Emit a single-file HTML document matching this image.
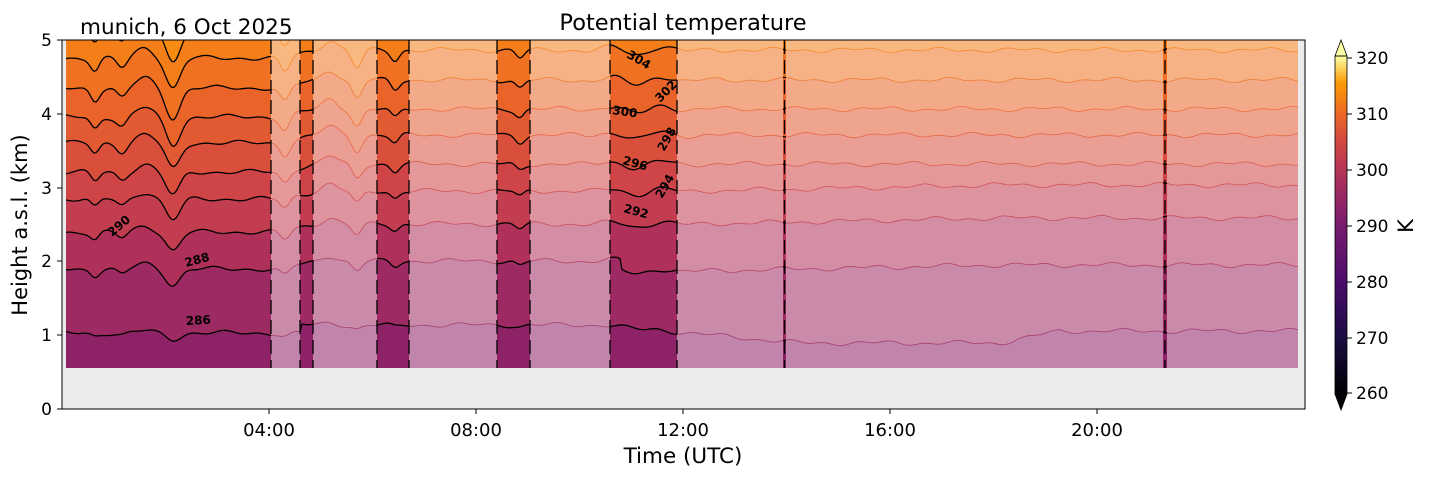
<!DOCTYPE html>
<html><head><meta charset="utf-8"><style>
body{margin:0;background:#fff;}
svg text{font-family:"DejaVu Sans","Liberation Sans",sans-serif;}
</style></head><body>
<svg id="s" width="1429" height="478" viewBox="0 0 1429 478" xmlns="http://www.w3.org/2000/svg">
<defs>
<clipPath id="da"><rect x="66" y="40" width="1232" height="328"/></clipPath>
<clipPath id="op">
<rect x="66" y="40" width="205" height="328"/><rect x="300" y="40" width="13" height="328"/>
<rect x="377" y="40" width="32" height="328"/><rect x="497" y="40" width="33" height="328"/>
<rect x="610" y="40" width="67" height="328"/><rect x="783" y="40" width="3" height="328"/>
<rect x="1163" y="40" width="4" height="328"/>
</clipPath>
<linearGradient id="cb" x1="0" y1="1" x2="0" y2="0">
<stop offset="0" stop-color="#000004"/><stop offset="0.17" stop-color="#1b0c41"/>
<stop offset="0.33" stop-color="#4a0c6b"/><stop offset="0.5" stop-color="#781c6d"/>
<stop offset="0.62" stop-color="#a52c60"/><stop offset="0.75" stop-color="#d44842"/>
<stop offset="0.83" stop-color="#ed6925"/><stop offset="0.92" stop-color="#fb9b06"/>
<stop offset="1" stop-color="#fcffa4"/></linearGradient>
</defs>
<rect x="62" y="40" width="1243" height="369" fill="#ebebeb"/>
<g id="bands" clip-path="url(#da)"></g>
<g id="fade" clip-path="url(#da)"></g>
<g id="flines" clip-path="url(#da)" fill="none" stroke-width="0.8"></g>
<g id="blines" clip-path="url(#op)" fill="none" stroke="#000" stroke-width="1.3"></g>
<g id="vl" stroke="#000" stroke-width="1.3"></g>
<g font-size="12" font-weight="bold" fill="#000">
<text x="186" y="325" transform="rotate(-3 186 325)">286</text>
<text x="186" y="267" transform="rotate(-15 186 267)">288</text>
<text x="112" y="237" transform="rotate(-40 112 237)">290</text>
<text x="623" y="212" transform="rotate(15 623 212)">292</text>
<text x="662" y="199" transform="rotate(-60 662 199)">294</text>
<text x="622" y="164" transform="rotate(15 622 164)">296</text>
<text x="664" y="152" transform="rotate(-60 664 152)">298</text>
<text x="612" y="114" transform="rotate(8 612 114)">300</text>
<text x="660" y="103" transform="rotate(-45 660 103)">302</text>
<text x="626" y="57" transform="rotate(30 626 57)">304</text>
</g>
<rect x="62" y="40" width="1243" height="369" fill="none" stroke="#000" stroke-width="1"/>
<g stroke="#000" stroke-width="1">
<line x1="57" y1="409" x2="62" y2="409"/><line x1="57" y1="335" x2="62" y2="335"/>
<line x1="57" y1="261" x2="62" y2="261"/><line x1="57" y1="188" x2="62" y2="188"/>
<line x1="57" y1="114" x2="62" y2="114"/><line x1="57" y1="40" x2="62" y2="40"/>
<line x1="269" y1="409" x2="269" y2="414"/><line x1="476" y1="409" x2="476" y2="414"/>
<line x1="683" y1="409" x2="683" y2="414"/><line x1="890" y1="409" x2="890" y2="414"/>
<line x1="1097" y1="409" x2="1097" y2="414"/>
</g>
<g font-size="17" fill="#000" text-anchor="end">
<text x="52" y="415">0</text><text x="52" y="341">1</text><text x="52" y="267">2</text>
<text x="52" y="194">3</text><text x="52" y="120">4</text><text x="52" y="46">5</text>
</g>
<g font-size="18" fill="#000" text-anchor="middle">
<text x="269" y="436">04:00</text><text x="476" y="436">08:00</text><text x="683" y="436">12:00</text>
<text x="890" y="436">16:00</text><text x="1097" y="436">20:00</text>
</g>
<text x="683" y="463" font-size="21.5" text-anchor="middle">Time (UTC)</text>
<text x="27" y="225" font-size="21" text-anchor="middle" transform="rotate(-90 27 225)">Height a.s.l. (km)</text>
<text x="683" y="30" font-size="22.5" text-anchor="middle">Potential temperature</text>
<text x="80" y="34" font-size="21.5">munich, 6 Oct 2025</text>
<rect x="1335" y="56" width="12" height="338" fill="url(#cb)"/>
<polygon points="1335,56 1347,56 1341,40" fill="#fcffa4" stroke="#000" stroke-width="0.8"/>
<polygon points="1335,394 1347,394 1341,410" fill="#000004" stroke="#000" stroke-width="0.8"/>
<rect x="1335" y="56" width="12" height="338" fill="none" stroke="#000" stroke-width="0.8"/>
<g stroke="#000"><line x1="1347" y1="58" x2="1352" y2="58"/><line x1="1347" y1="114" x2="1352" y2="114"/>
<line x1="1347" y1="170" x2="1352" y2="170"/><line x1="1347" y1="226" x2="1352" y2="226"/>
<line x1="1347" y1="282" x2="1352" y2="282"/><line x1="1347" y1="338" x2="1352" y2="338"/>
<line x1="1347" y1="393" x2="1352" y2="393"/></g>
<g font-size="17"><text x="1356" y="64">320</text><text x="1356" y="120">310</text><text x="1356" y="176">300</text>
<text x="1356" y="232">290</text><text x="1356" y="288">280</text><text x="1356" y="344">270</text><text x="1356" y="399">260</text></g>
<text x="1413" y="226" font-size="21" text-anchor="middle" transform="rotate(-90 1413 226)">K</text>
</svg>
<script>
var NS="http://www.w3.org/2000/svg";
var cols=["#8e2266","#9e2a63","#af315a","#c23d50","#cf4446","#da4f3c","#e25a32","#ea6429","#ef7121","#f47f18","#f78c10","#fa9a0a","#fba60a"];
var base=[333,269,232,199,172,143,117,88,58,32,10];
function y(i,x){var b=base[i];var k=(i==0)?0.2:Math.min(1,0.45+i*0.08);
var d=0;
d+= 30*k*Math.exp(-Math.pow((x-173)/10,2));
d+= 12*k*Math.exp(-Math.pow((x-95)/6,2))+10*k*Math.exp(-Math.pow((x-122)/7,2));
d+= -10*k*Math.exp(-Math.pow((x-145)/12,2));
d+= 16*k*Math.exp(-Math.pow((x-285)/7,2))+18*k*Math.exp(-Math.pow((x-357)/7,2));
d+= -10*k*Math.exp(-Math.pow((x-330)/10,2))+10*k*Math.exp(-Math.pow((x-395)/6,2));
d+= 8*k*Math.exp(-Math.pow((x-520)/6,2))+5*k*Math.sin(x/9)*Math.exp(-Math.pow((x-640)/40,2));
d+= 1.5*Math.sin(x/13+i)+1.2*Math.sin(x/5.3+i*2);
var drift=0;
if(i==0){drift=(x>300?-8:0)+(x>600?18:0)*Math.min(1,(x-600)/200)+(x>1000?-12*Math.min(1,(x-1000)/60):0);}
else {drift=-8*Math.min(1,Math.max(0,(x-271)/50))+ (i<4? -6*Math.max(0,Math.min(1,(x-700)/300)):0);}
if(i==1&&x>620)drift+=10;
return b+d+drift;}
function pts(i){var s="";for(var x=60;x<=1300;x+=2){s+=(x==60?"M":"L")+x+","+y(i,x).toFixed(1);}return s;}
var g=document.getElementById("bands");
function add(p,tag,a){var e=document.createElementNS(NS,tag);for(var k in a)e.setAttribute(k,a[k]);p.appendChild(e);return e;}
add(g,"rect",{x:66,y:40,width:1232,height:328,fill:cols[11]});
for(var i=base.length-1;i>=0;i--){add(g,"path",{d:pts(i)+"L1300,380L60,380Z",fill:cols[i]});}
var f=document.getElementById("fade");
var op=[[66,271],[300,313],[377,409],[497,530],[610,677],[783,786],[1163,1167],[1298,1300]];
for(var j=0;j<op.length-1;j++){add(f,"rect",{x:op[j][1],y:40,width:op[j+1][0]-op[j][1],height:328,fill:"#fff","fill-opacity":0.45});}
var fl=document.getElementById("flines"),bl=document.getElementById("blines");
for(var i=0;i<base.length;i++){var d=pts(i);add(fl,"path",{d:d,stroke:cols[i+1]||cols[11],"stroke-opacity":0.8});add(bl,"path",{d:d});}
var vl=document.getElementById("vl");
[271,300,313,377,409,497,530,610,677,784.5,1165].forEach(function(x){add(vl,"line",{x1:x,y1:40,x2:x,y2:368,"stroke-dasharray":"14 6"});});
</script>
</body></html>
